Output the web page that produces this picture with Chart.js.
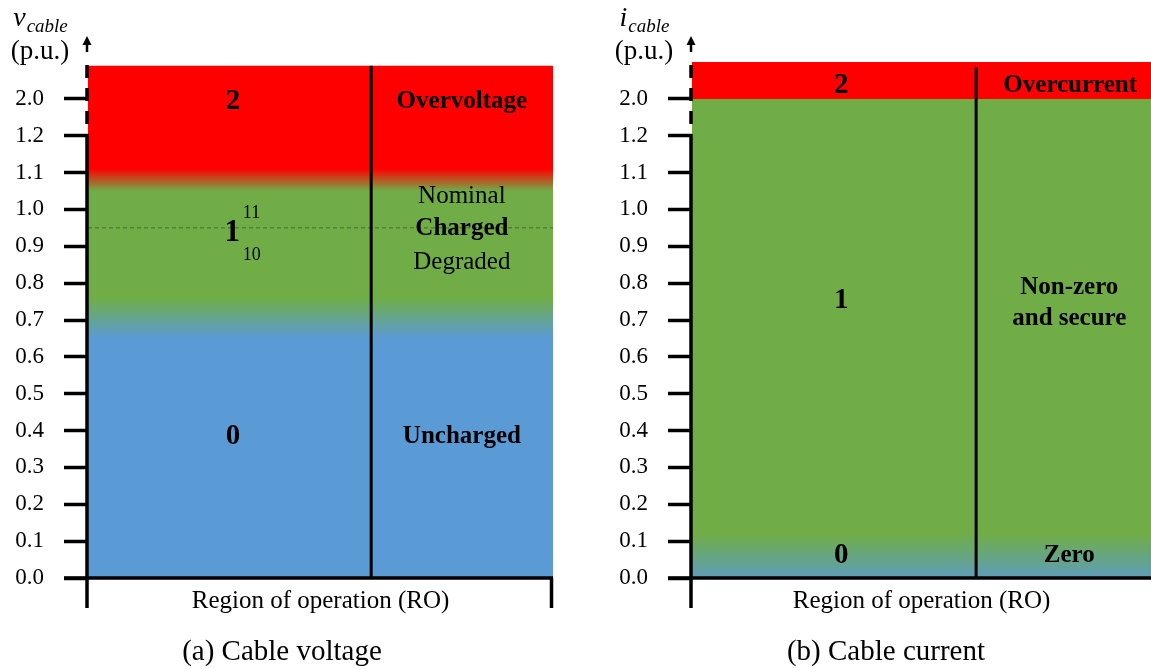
<!DOCTYPE html>
<html>
<head>
<meta charset="utf-8">
<title>Cable voltage and current regions of operation</title>
<script src="https://cdn.jsdelivr.net/npm/chart.js@4.4.0/dist/chart.umd.min.js"></script>
<style>
  html, body { margin: 0; padding: 0; background: #fff; }
  #wrap { position: relative; width: 1151px; height: 669px; overflow: hidden; }
  canvas { position: absolute; top: 0; }
  #volt { left: 0; }
  #curr { left: 600px; }
</style>
</head>
<body>
<div id="wrap">
  <canvas id="volt" width="575" height="669"></canvas>
  <canvas id="curr" width="551" height="669"></canvas>
</div>
<script>
// y axis ticks in p.u. (the axis is broken between 1.2 and 2.0)
const tickValues = [0, 0.1, 0.2, 0.3, 0.4, 0.5, 0.6, 0.7, 0.8, 0.9, 1.0, 1.1, 1.2, 2.0];
const tickLabels = ['0.0', '0.1', '0.2', '0.3', '0.4', '0.5', '0.6', '0.7', '0.8', '0.9', '1.0', '1.1', '1.2', '2.0'];

// cable voltage: level (p.u.) where each region state holds, 0 = uncharged, 1 = charged, 2 = overvoltage
const voltStops = [0, 0.65, 0.76, 1.05, 1.11, 2.72];
const voltStates = [0, 0, 1, 1, 2, 2];
const voltNominal = 0.95;

// cable current: 0 = zero, 1 = non-zero and secure, 2 = overcurrent
const currStops = [0, 0.12, 2.0, 2.0, 2.8];
const currStates = [0, 1, 1, 2, 2];

const FONT = "'Liberation Serif', 'Times New Roman', serif";
const BLUE = '#5B9BD5', GREEN = '#70AD47', RED = '#FF0000', TEAL = '#5E9DBA';
const BREAK = 1.2;
const Y_MAX = 14;
const TICK_LEN = 24;

// place a p.u. value on the broken axis (one step per 0.1 up to 1.2, then 2.0 one step higher)
function toPos(v) {
  return v <= BREAK ? v * 10 : 12 + (v - BREAK) / 0.8;
}

function bandFill(stops, states, palette) {
  return (c) => {
    const chart = c.chart;
    const y = chart.scales.y;
    if (!chart.chartArea || !y) return palette[states[0]];
    const g = chart.ctx.createLinearGradient(0, y.getPixelForValue(0), 0, y.getPixelForValue(Y_MAX));
    stops.forEach((s, i) => g.addColorStop(Math.min(1, toPos(s) / Y_MAX), palette[states[i]]));
    return g;
  };
}

function seg(ctx, x1, y1, x2, y2) {
  ctx.beginPath();
  ctx.moveTo(x1, y1);
  ctx.lineTo(x2, y2);
  ctx.stroke();
}

function txt(ctx, s, x, y, font, align) {
  ctx.font = font;
  ctx.textAlign = align || 'center';
  ctx.textBaseline = 'middle';
  ctx.fillText(s, x, y);
}

// axis line with break, arrow, bottom line, titles and region labels
const decor = {
  id: 'decor',
  afterDraw(chart, args, o) {
    const { ctx, chartArea: a, scales: { x, y } } = chart;
    ctx.save();
    ctx.strokeStyle = '#000';
    ctx.fillStyle = '#000';
    ctx.lineCap = 'butt';

    const yBreak = y.getPixelForValue(toPos(BREAK));
    const ax = a.left - 1;
    ctx.lineWidth = 3.5;
    seg(ctx, ax, a.bottom + 30, ax, yBreak);
    ctx.setLineDash([13, 10]);
    seg(ctx, ax, a.top + 3, ax, yBreak);
    ctx.setLineDash([]);
    seg(ctx, a.left - TICK_LEN, a.bottom, a.right, a.bottom);
    if (o.rightStub) seg(ctx, a.right - 1.5, a.bottom, a.right - 1.5, a.bottom + 30);

    ctx.lineWidth = 2.5;
    seg(ctx, ax, a.top - 10, ax, a.top - 19);
    ctx.beginPath();
    ctx.moveTo(ax, a.top - 26);
    ctx.lineTo(ax - 4.5, a.top - 17);
    ctx.lineTo(ax + 4.5, a.top - 17);
    ctx.closePath();
    ctx.fill();

    // y title: symbol with italic subscript, then unit
    const cx = a.left - 48;
    ctx.font = 'italic 28px ' + FONT;
    const w1 = ctx.measureText(o.symbol).width;
    ctx.font = 'italic 19px ' + FONT;
    const w2 = ctx.measureText('cable').width;
    const x0 = cx - (w1 + w2) / 2;
    ctx.textAlign = 'left';
    ctx.textBaseline = 'alphabetic';
    ctx.font = 'italic 28px ' + FONT;
    ctx.fillText(o.symbol, x0, 26);
    ctx.font = 'italic 19px ' + FONT;
    ctx.fillText('cable', x0 + w1 + 1, 32);
    txt(ctx, '(p.u.)', cx, 52, '27px ' + FONT);

    o.labels.forEach(l => {
      txt(ctx, l.t, x.getPixelForValue(l.x), y.getPixelForValue(l.y), l.f + ' ' + FONT, l.align);
    });

    txt(ctx, o.caption, a.left + 194, 652, '29px ' + FONT);
    ctx.restore();
  }
};

function makeChart(id, cfg) {
  const top = toPos(cfg.stops[cfg.stops.length - 1]);
  return new Chart(document.getElementById(id), {
    type: 'line',
    data: {
      datasets: [{
        // region divider between state number and state name
        data: [{ x: cfg.divider, y: toPos(cfg.dividerTop) }, { x: cfg.divider, y: 0 }],
        borderColor: '#000',
        borderWidth: 3,
        pointRadius: 0,
        fill: false,
        order: 1
      }].concat(cfg.extra).concat([{
        // coloured regions of operation
        data: [{ x: 0, y: top }, { x: 1, y: top }],
        borderWidth: 0,
        pointRadius: 0,
        fill: 'origin',
        backgroundColor: bandFill(cfg.stops, cfg.states, cfg.palette),
        order: 5
      }])
    },
    options: {
      responsive: false,
      animation: false,
      events: [],
      layout: { padding: { top: 62, right: cfg.padRight, bottom: 53, left: 0 } },
      plugins: {
        legend: { display: false },
        tooltip: { enabled: false },
        decor: cfg.decor
      },
      scales: {
        x: {
          type: 'linear',
          min: 0,
          max: 1,
          grid: { display: false },
          border: { display: false },
          ticks: { display: false },
          title: {
            display: true,
            text: 'Region of operation (RO)',
            color: '#000',
            font: { family: FONT, size: 25 },
            padding: { top: 0, bottom: 0 }
          },
          afterFit: (s) => { s.height = 38; }
        },
        y: {
          min: 0,
          max: Y_MAX,
          afterBuildTicks: (s) => { s.ticks = tickValues.map(v => ({ value: toPos(v) })); },
          afterFit: (s) => { s.width = cfg.axisWidth; },
          ticks: {
            autoSkip: false,
            callback: (v, i) => tickLabels[i],
            color: '#000',
            padding: 20,
            font: { family: FONT, size: 23 }
          },
          grid: { drawOnChartArea: false, drawTicks: true, tickLength: TICK_LEN, tickWidth: 3.5, tickColor: '#000' },
          border: { display: false }
        }
      }
    },
    plugins: [decor]
  });
}

makeChart('volt', {
  stops: voltStops, states: voltStates, palette: [BLUE, GREEN, RED],
  divider: 0.609, dividerTop: voltStops[voltStops.length - 1],
  axisWidth: 88, padRight: 22,
  extra: [{
    data: [{ x: 0, y: toPos(voltNominal) }, { x: 1, y: toPos(voltNominal) }],
    borderColor: 'rgba(60, 80, 50, 0.75)',
    borderWidth: 1,
    borderDash: [4, 3],
    pointRadius: 0,
    fill: false,
    order: 2
  }],
  decor: {
    symbol: 'v', rightStub: true, caption: '(a) Cable voltage',
    labels: [
      { t: '2', x: 0.312, y: 12.94, f: 'bold 29px' },
      { t: 'Overvoltage', x: 0.804, y: 12.94, f: 'bold 25px' },
      { t: '1', x: 0.31, y: 9.36, f: 'bold 31px' },
      { t: '11', x: 0.333, y: 9.9, f: '18px', align: 'left' },
      { t: '10', x: 0.333, y: 8.76, f: '18px', align: 'left' },
      { t: 'Nominal', x: 0.804, y: 10.34, f: '25px' },
      { t: 'Charged', x: 0.804, y: 9.47, f: 'bold 25px' },
      { t: 'Degraded', x: 0.804, y: 8.57, f: '25px' },
      { t: '0', x: 0.312, y: 3.83, f: 'bold 29px' },
      { t: 'Uncharged', x: 0.804, y: 3.83, f: 'bold 25px' }
    ]
  }
});

makeChart('curr', {
  stops: currStops, states: currStates, palette: [TEAL, GREEN, RED],
  divider: 0.619, dividerTop: 2.68,
  axisWidth: 92, padRight: 0,
  extra: [],
  decor: {
    symbol: 'i', rightStub: false, caption: '(b) Cable current',
    labels: [
      { t: '2', x: 0.325, y: 13.37, f: 'bold 29px' },
      { t: 'Overcurrent', x: 0.824, y: 13.37, f: 'bold 25px' },
      { t: '1', x: 0.325, y: 7.54, f: 'bold 29px' },
      { t: 'Non-zero', x: 0.822, y: 7.87, f: 'bold 25px' },
      { t: 'and secure', x: 0.822, y: 7.03, f: 'bold 25px' },
      { t: '0', x: 0.325, y: 0.62, f: 'bold 29px' },
      { t: 'Zero', x: 0.822, y: 0.62, f: 'bold 25px' }
    ]
  }
});
</script>
</body>
</html>
